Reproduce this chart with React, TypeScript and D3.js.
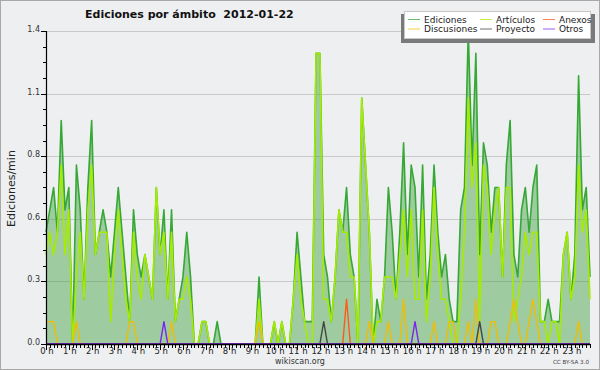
import React from 'react';
import * as d3 from 'd3';

// 10-minute slots over the day (minutes since 00:00)
const slotMinutes = d3.range(144).map((i) => i * 10);

const ediciones = [
  0.5,0.6,0.7,0.5,1.0,0.6,0.7,0.0,0.8,0.6,
  0.2,0.7,1.0,0.4,0.5,0.6,0.5,0.3,0.5,0.7,
  0.5,0.3,0.1,0.6,0.4,0.3,0.4,0.3,0.2,0.7,
  0.4,0.6,0.2,0.6,0.1,0.2,0.3,0.5,0.3,0.0,
  0,0.1,0.1,0,0,0.1,0,0,0,0,
  0,0,0,0,0,0,0.3,0,0,0,
  0.1,0,0.1,0,0,0.2,0.5,0.3,0.1,0.1,
  0.1,1.3,1.3,0.4,0.3,0.1,0.3,0.6,0.5,0.7,
  0.4,0.3,0.0,1.1,0.8,0.5,0.0,0.2,0.1,0.3,
  0.7,0.5,0.2,0.5,0.9,0.4,0.8,0.7,0.3,0.8,
  0.2,0.4,0.8,0.5,0.3,0.4,0.2,0.1,0.1,0.6,
  0.7,1.4,0.8,1.3,0.4,0.9,0.8,0.5,0.7,0.7,
  0.3,0.8,1.0,0.4,0.3,0.6,0.7,0.5,0.7,0.8,
  0.1,0.1,0.2,0.1,0.1,0.1,0.4,0.5,0.2,0.4,
  1.2,0.6,0.7,0.3,
];

const articulos = [
  0.4,0.5,0.4,0.5,0.8,0.4,0.6,0,0.3,0.5,
  0.2,0.6,0.8,0.4,0.5,0.5,0.5,0.1,0.4,0.6,
  0.4,0.2,0.1,0.5,0.3,0.2,0.4,0.3,0.2,0.7,
  0.4,0.5,0.2,0.5,0.1,0.2,0.2,0.3,0.2,0,
  0,0.1,0.1,0,0,0,0,0,0,0,
  0,0,0,0,0,0,0.2,0,0,0,
  0.1,0,0.1,0,0,0.2,0.4,0.2,0.1,0,
  0,1.3,1.3,0.2,0.2,0.1,0.3,0.6,0.5,0.5,
  0.3,0.3,0,1.1,0.8,0.5,0,0.1,0.1,0.3,
  0.3,0.3,0.2,0.4,0.6,0.3,0.6,0.2,0.2,0.6,
  0.1,0.3,0.7,0.4,0.2,0.2,0.1,0,0,0.2,
  0.5,1.1,0.7,0.9,0.1,0.8,0.7,0.4,0.6,0.7,
  0.3,0.7,0.7,0.1,0.2,0.3,0.5,0.4,0.5,0.5,
  0.1,0.1,0,0.1,0.1,0,0.4,0.5,0.2,0.3,
  0.8,0.5,0.6,0.2,
];

const discusiones = [
  0.1,0.1,0.1,0,0,0,0,0,0.1,0,
  0,0,0,0,0,0,0,0,0,0,
  0,0,0.1,0.1,0,0,0,0,0,0,
  0,0,0,0.1,0,0,0,0,0,0,
  0,0,0,0,0,0,0,0,0,0,
  0,0,0,0,0,0,0.1,0,0,0,
  0,0,0,0,0,0,0,0,0,0,
  0,0,0,0,0,0,0,0,0,0,
  0,0,0,0,0,0.1,0,0,0,0,
  0.1,0,0,0,0.2,0,0,0,0,0,
  0,0,0.1,0,0,0,0.1,0.1,0,0,
  0,0.1,0,0.2,0,0,0,0.1,0.1,0,
  0,0,0.1,0.2,0.1,0,0,0.1,0.2,0.1,
  0,0,0,0,0,0,0,0,0,0,
  0.1,0,0,0,
];

const proyecto = [
  0,0,0,0,0,0,0,0,0,0, 0,0,0,0,0,0,0,0,0,0,
  0,0,0,0,0,0,0,0,0,0, 0,0,0,0,0,0,0,0,0,0,
  0,0,0,0,0,0,0,0,0,0, 0,0,0,0,0,0,0,0,0,0,
  0,0,0,0,0,0,0,0,0,0, 0,0,0,0.1,0,0,0,0,0,0,
  0,0,0,0,0,0,0,0,0,0, 0,0,0,0,0,0,0,0,0,0,
  0,0,0,0,0,0,0,0,0,0, 0,0,0,0,0.1,0,0,0,0,0,
  0,0,0,0,0,0,0,0,0,0, 0,0,0,0,0,0,0,0,0,0,
  0,0,0,0,
];

const anexos = [
  0,0,0,0,0,0,0,0,0,0, 0,0,0,0,0,0,0,0,0,0,
  0,0,0,0,0,0,0,0,0,0, 0,0,0,0,0,0,0,0,0,0,
  0,0,0,0,0,0,0,0,0,0, 0,0,0,0,0,0,0,0,0,0,
  0,0,0,0,0,0,0,0,0,0, 0,0,0,0,0,0,0,0,0,0.2,
  0,0,0,0,0,0,0,0,0,0, 0,0,0,0,0,0,0,0,0,0,
  0,0,0,0,0,0,0,0,0,0, 0,0,0,0,0,0,0,0,0,0,
  0,0,0,0,0,0,0,0,0,0, 0,0,0,0,0,0,0,0,0,0,
  0,0,0,0,
];

const otros = [
  0,0,0,0,0,0,0,0,0,0, 0,0,0,0,0,0,0,0,0,0,
  0,0,0,0,0,0,0,0,0,0, 0,0.1,0,0,0,0,0,0,0,0,
  0,0,0,0,0,0,0,0,0,0, 0,0,0,0,0,0,0,0,0,0,
  0,0,0,0,0,0,0,0,0,0, 0,0,0,0,0,0,0,0,0,0,
  0,0,0,0,0,0,0,0,0,0, 0,0,0,0,0,0,0,0.1,0,0,
  0,0,0,0,0,0,0,0,0,0, 0,0,0,0,0,0,0,0,0,0,
  0,0,0,0,0,0,0,0,0,0, 0,0,0,0,0,0,0,0,0,0,
  0,0,0,0,
];

const yTicks = [0, 0.28, 0.56, 0.84, 1.12, 1.4];
const hours = d3.range(24);

const titleText = 'Ediciones por ámbito  2012-01-22';
const yLabel = 'Ediciones/min';

const legendItems = [
  { label: 'Ediciones', color: '#3aaa3a' },
  { label: 'Artículos', color: '#a8e800' },
  { label: 'Anexos', color: '#ff5a1a' },
  { label: 'Discusiones', color: '#f2c200' },
  { label: 'Proyecto', color: '#444444' },
  { label: 'Otros', color: '#7a22ee' },
];

const FONT = '"DejaVu Sans", Verdana, sans-serif';

export default function App() {
  const x = d3.scaleLinear().domain([0, 1430]).range([46, 590]);
  const y = d3.scaleLinear().domain([0, 1.4]).range([344, 31]);

  const line = d3
    .line<number>()
    .x((_, i) => x(slotMinutes[i]))
    .y((d) => y(d));
  const area = d3
    .area<number>()
    .x((_, i) => x(slotMinutes[i]))
    .y0(y(0))
    .y1((d) => y(d));

  const yMinor = d3.range(0, 1.4001, 0.07);
  const fmt = d3.format('.1f');

  const series = [
    { data: ediciones, color: '#36a836', w: 1.6 },
    { data: articulos, color: '#a6ec00', w: 1.6 },
    { data: discusiones, color: '#f0be00', w: 1.4 },
    { data: anexos, color: '#ff5a1a', w: 1.4 },
    { data: proyecto, color: '#444444', w: 1.4 },
    { data: otros, color: '#7a22ee', w: 1.4 },
  ];

  const legendCols = [408, 480, 543];
  const legendRows = [19, 28.5];

  return (
    <div style={{ position: 'absolute', left: 0, top: 0 }}>
      <svg width={600} height={370} style={{ display: 'block', fontFamily: FONT }}>
        <rect x={0.5} y={0.5} width={599} height={369} fill="#eeeff1" stroke="#a8a8a8" />

        {/* grid */}
        {yTicks.map((t) => (
          <line key={'g' + t} x1={46} x2={590} y1={Math.round(y(t)) + 0.5} y2={Math.round(y(t)) + 0.5} stroke="#c9c9c9" strokeWidth={1} />
        ))}

        {/* fill under Ediciones */}
        <path d={area(ediciones) || ''} fill="rgb(60,160,60)" fillOpacity={0.45} />

        {/* lines */}
        {series.map((s, k) => (
          <path key={k} d={line(s.data) || ''} fill="none" stroke={s.color} strokeWidth={s.w} strokeLinejoin="round" />
        ))}

        {/* y axis */}
        <line x1={46.5} x2={46.5} y1={31} y2={345} stroke="#000" strokeWidth={1.2} />
        {yMinor.map((t, i) => (
          <line key={'ym' + i} x1={43} x2={46.5} y1={Math.round(y(t)) + 0.5} y2={Math.round(y(t)) + 0.5} stroke="#000" strokeWidth={1} />
        ))}
        {yTicks.map((t) => (
          <g key={'yt' + t}>
            <line x1={41} x2={46.5} y1={Math.round(y(t)) + 0.5} y2={Math.round(y(t)) + 0.5} stroke="#000" strokeWidth={1} />
            <text x={40} y={y(t) + 1} textAnchor="end" fontSize={8} fill="#333">
              {fmt(t)}
            </text>
          </g>
        ))}

        {/* x axis */}
        <line x1={46} x2={590} y1={344.5} y2={344.5} stroke="#000" strokeWidth={1.5} />
        {slotMinutes.map((m) => (
          <line key={'xm' + m} x1={Math.round(x(m)) + 0.5} x2={Math.round(x(m)) + 0.5} y1={344} y2={348} stroke="#000" strokeWidth={1} />
        ))}
        {hours.map((h) => (
          <g key={'h' + h}>
            <line x1={Math.round(x(h * 60)) + 0.5} x2={Math.round(x(h * 60)) + 0.5} y1={344} y2={350} stroke="#000" strokeWidth={1} />
            <text x={x(h * 60) + 1} y={354} textAnchor="middle" fontSize={8.5} fill="#222">
              {h + ' h'}
            </text>
          </g>
        ))}

        {/* title */}
        <text x={85} y={18} fontSize={11} fontWeight="bold" fill="#111" style={{ whiteSpace: 'pre' }}>
          {titleText}
        </text>

        {/* y label */}
        <text transform="translate(15,188.5) rotate(-90)" textAnchor="middle" fontSize={11} fill="#222">
          {yLabel}
        </text>

        {/* footer */}
        <text x={300} y={364} textAnchor="middle" fontSize={8} fill="#333">
          wikiscan.org
        </text>
        <text x={589} y={364} textAnchor="end" fontSize={5.6} fill="#444">
          CC BY-SA 3.0
        </text>

        {/* legend */}
        <rect x={401} y={14} width={194} height={29} fill="#7a7a7a" />
        <rect x={404.5} y={11.5} width={186} height={27} fill="#ffffff" stroke="#c8c8c8" />
        {legendItems.map((it, i) => {
          const cx = legendCols[i % 3];
          const cy = legendRows[Math.floor(i / 3)];
          return (
            <g key={it.label}>
              <line x1={cx} x2={cx + 12} y1={cy + 0.5} y2={cy + 0.5} stroke={it.color} strokeWidth={1} strokeOpacity={0.75} />
              <text x={cx + 16} y={cy + 3.5} fontSize={9} fill="#222">
                {it.label}
              </text>
            </g>
          );
        })}
      </svg>
    </div>
  );
}
